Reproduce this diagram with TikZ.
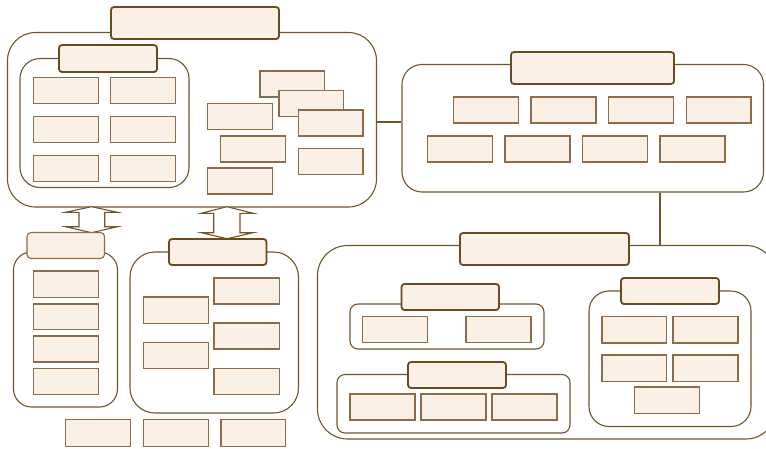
\documentclass[tikz,border=0pt]{standalone}
\usetikzlibrary{fit}
\definecolor{bg}{HTML}{FAF0E6}
\definecolor{dbrd}{HTML}{6B4A1F}
\definecolor{brd}{HTML}{735428}
\definecolor{lbrd}{HTML}{8C6D48}
\tikzset{
  cont/.style={draw=brd, line width=1.1pt, rounded corners=#1, inner sep=0pt},
  ttl/.style={draw=dbrd, line width=1.8pt, fill=bg, rounded corners=3pt, inner sep=0pt},
  ttlthin/.style={draw=lbrd, line width=1.1pt, fill=bg, rounded corners=4pt, inner sep=0pt},
  sb/.style={draw=lbrd, line width=1.1pt, fill=bg, inner sep=0pt},
  conn/.style={draw=brd, line width=1.1pt},
  dblarrow/.style={draw=brd, line width=1.1pt, fill=white},
}
\begin{document}
\begin{tikzpicture}[x=1pt,y=-1pt]
\useasboundingbox (0,0) rectangle (766,448);
\clip (0,0) rectangle (766,448);
% ---------- top-left container ----------
\node[cont=28pt, fit={(7.5,32.5)(376.5,207)}] (c1) {};
\node[cont=20pt, fit={(20,58.5)(189,187.5)}] (c1a) {};
\node[ttl, fit={(111,7)(279,39)}] (t1) {};
\node[ttl, fit={(59,45)(157,72)}] (t1a) {};
\node[sb, fit={(33.5,77.5)(98.5,103.5)}] (a1) {};
\node[sb, fit={(110.5,77.5)(175.5,103.5)}] (a2) {};
\node[sb, fit={(33.5,116.5)(98.5,142.5)}] (a3) {};
\node[sb, fit={(110.5,116.5)(175.5,142.5)}] (a4) {};
\node[sb, fit={(33.5,155.5)(98.5,181.5)}] (a5) {};
\node[sb, fit={(110.5,155.5)(175.5,181.5)}] (a6) {};
\node[sb, fit={(260,71)(324.5,97)}] (b1) {};
\node[sb, fit={(279,90.5)(343.5,116.5)}] (b2) {};
\node[sb, fit={(298.5,110)(363,136)}] (b3) {};
\node[sb, fit={(207.5,103.5)(272.5,129.5)}] (b4) {};
\node[sb, fit={(220.5,136)(285.5,162)}] (b5) {};
\node[sb, fit={(298.5,148.5)(363,174.5)}] (b6) {};
\node[sb, fit={(207.5,168)(272.5,194)}] (b7) {};
% ---------- top-right container ----------
\node[cont=20pt, fit={(402,64.5)(763.5,192)}] (c2) {};
\node[ttl, fit={(511,52)(674,84)}] (t2) {};
\node[sb, fit={(453.5,97)(518.5,123)}] (d1) {};
\node[sb, fit={(531,97)(596,123)}] (d2) {};
\node[sb, fit={(608.5,97)(673.5,123)}] (d3) {};
\node[sb, fit={(686.5,97)(751,123)}] (d4) {};
\node[sb, fit={(427.5,136)(492.5,162)}] (d5) {};
\node[sb, fit={(505,136)(570,162)}] (d6) {};
\node[sb, fit={(582.5,136)(647.5,162)}] (d7) {};
\node[sb, fit={(660,136)(725,162)}] (d8) {};
% connectors
\coordinate (j1) at (389,122);
\coordinate (j2) at (660,220);
\draw[conn] (c1.east |- j1) -- (c2.west |- j1);
% ---------- bottom-right container ----------
\node[cont=30pt, fit={(317.5,245.5)(776,439)}] (c3) {};
\draw[conn] (c2.south -| j2) -- (c3.north -| j2);
\node[ttl, fit={(460,233)(629,265)}] (t3) {};
\node[cont=8pt, fit={(350,304)(544,349)}] (c3a) {};
\node[ttl, fit={(401.5,284)(499,310)}] (t3a) {};
\node[sb, fit={(362.5,316.5)(427.5,342.5)}] (e1) {};
\node[sb, fit={(466,316.5)(531,342.5)}] (e2) {};
\node[cont=8pt, fit={(337,374.5)(570,433)}] (c3b) {};
\node[ttl, fit={(408,362)(506,388)}] (t3b) {};
\node[sb, fit={(350,394)(415,420)}] (f1) {};
\node[sb, fit={(421,394)(486,420)}] (f2) {};
\node[sb, fit={(492,394)(557,420)}] (f3) {};
\node[cont=20pt, fit={(589,291)(751,426.5)}] (c3c) {};
\node[ttl, fit={(621,278)(719,304)}] (t3c) {};
\node[sb, fit={(602,316.5)(666.5,343)}] (g1) {};
\node[sb, fit={(673,316.5)(738,343)}] (g2) {};
\node[sb, fit={(602,355)(666.5,381.5)}] (g3) {};
\node[sb, fit={(673,355)(738,381.5)}] (g4) {};
\node[sb, fit={(634.5,387)(699.5,413.5)}] (g5) {};
% ---------- bottom-left containers ----------
\node[cont=18pt, fit={(13.5,252)(117.5,407)}] (c4) {};
\node[cont=25pt, fit={(130,252)(298.5,413)}] (c5) {};
% double arrows
\draw[dblarrow] (91.5,206.7) -- (117.5,212.3) -- (104.7,212.3) -- (104.7,226.7) -- (117.5,226.7)
  -- (91.5,232.7) -- (65.5,226.7) -- (79,226.7) -- (79,212.3) -- (65.5,212.3) -- cycle;
\draw[dblarrow] (227,206.7) -- (253.3,213.3) -- (240,213.3) -- (240,232.7) -- (253.3,232.7)
  -- (227,238.7) -- (201.3,232.7) -- (213.7,232.7) -- (213.7,213.3) -- (201.3,213.3) -- cycle;
\node[ttlthin, fit={(27,232.5)(104.5,258.5)}] (t4) {};
\node[ttl, fit={(169,239)(266.5,265)}] (t5) {};
\node[sb, fit={(33.5,271)(98.5,297.5)}] (h1) {};
\node[sb, fit={(33.5,304)(98.5,329.5)}] (h2) {};
\node[sb, fit={(33.5,336)(98.5,362)}] (h3) {};
\node[sb, fit={(33.5,368.5)(98.5,394.5)}] (h4) {};
\node[sb, fit={(143.5,297)(208.5,323.5)}] (k1) {};
\node[sb, fit={(143.5,342.5)(208.5,368.5)}] (k2) {};
\node[sb, fit={(214,278)(279.5,304)}] (k3) {};
\node[sb, fit={(214,323)(279.5,349)}] (k4) {};
\node[sb, fit={(214,368.5)(279.5,394.5)}] (k5) {};
% bottom row
\node[sb, fit={(65.5,419.5)(130.5,446.5)}] (m1) {};
\node[sb, fit={(143.5,419.5)(208.5,446.5)}] (m2) {};
\node[sb, fit={(221,419.5)(285.5,446.5)}] (m3) {};
\end{tikzpicture}
\end{document}
